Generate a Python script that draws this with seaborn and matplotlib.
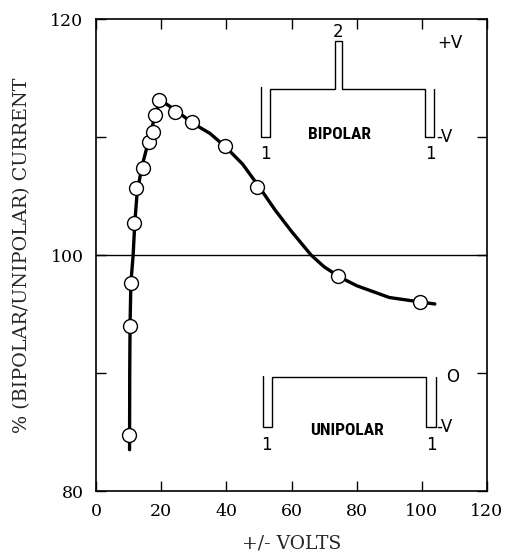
import matplotlib
matplotlib.use("Agg")
import matplotlib.pyplot as plt
import seaborn as sns
import pandas as pd

# measured points: bipolar/unipolar current ratio (%) vs +/- volts
volts = [10.1, 10.4, 10.6, 11.7, 12.3, 14.3, 16.4, 17.4, 18.1, 19.4,
         24.2, 29.5, 39.6, 49.3, 74.3, 99.4]
ratio = [84.75, 94.0, 97.6, 102.7, 105.65, 107.35, 109.55, 110.45, 111.9, 113.1,
         112.1, 111.3, 109.2, 105.8, 98.2, 96.0]

# hand-drawn trend curve through the measurements
curve_volts = [10.3, 10.35, 10.45, 10.7, 11.4, 11.9, 12.6, 14.0, 15.5, 17.0,
               18.3, 19.5, 21.0, 24.3, 29.5, 35.0, 40.0, 45.0, 50.0, 55.0,
               60.0, 66.0, 70.0, 75.0, 80.0, 90.0, 100.0, 104.0]
curve_ratio = [83.5, 90.0, 94.0, 97.6, 100.0, 102.7, 105.2, 107.4, 109.0, 110.6,
               112.0, 112.9, 112.9, 112.3, 111.2, 110.3, 109.1, 107.7, 105.8, 103.8,
               102.0, 100.0, 99.0, 98.1, 97.4, 96.4, 96.0, 95.85]

# pulse-train sketches (in axis units)
bipolar_x = [50.6, 50.6, 53.4, 53.4, 73.3, 73.3, 75.4, 75.4, 101.1, 101.1, 103.8, 103.8]
bipolar_y = [114.2, 110.0, 110.0, 114.07, 114.07, 118.1, 118.1, 114.07, 114.07, 110.0, 110.0, 114.07]
unipolar_x = [51.1, 51.1, 53.9, 53.9, 101.4, 101.4, 104.2, 104.2]
unipolar_y = [89.75, 85.45, 85.45, 89.66, 89.66, 85.45, 85.45, 89.66]

x_ticks = [0, 20, 40, 60, 80, 100, 120]
y_ticks = [80, 90, 100, 110, 120]
y_tick_labels = ["80", "", "100", "", "120"]

sns.set_style("ticks")
plt.rcParams["font.family"] = ["DejaVu Serif", "DejaVu Sans"]

fig = plt.figure(figsize=(5.08, 5.52), dpi=100)
ax = fig.add_axes([96 / 508, 1 - 491 / 552, (487 - 96) / 508, (491 - 19) / 552])

pts = pd.DataFrame({"volts": volts, "ratio": ratio})
trend = pd.DataFrame({"volts": curve_volts, "ratio": curve_ratio})

ax.axhline(100, color="black", lw=1.0, zorder=1)
sns.lineplot(data=trend, x="volts", y="ratio", sort=False, color="black",
             lw=2.4, ax=ax, zorder=2)
sns.scatterplot(data=pts, x="volts", y="ratio", ax=ax, s=100, marker="o",
                facecolor="white", edgecolor="black", linewidth=1.0, zorder=3)

# pulse sketches and their annotations
wave_kw = dict(color="black", lw=1.0, solid_joinstyle="miter")
ax.plot(bipolar_x, bipolar_y, **wave_kw)
ax.plot(unipolar_x, unipolar_y, **wave_kw)

lab_kw = dict(family=["DejaVu Sans"], fontsize=12, color="black")
ax.text(74.4, 118.9, "2", ha="center", va="center", **lab_kw)
ax.text(104.6, 118.0, "+V", ha="left", va="center", **lab_kw)
ax.text(104.3, 110.0, "-V", ha="left", va="center", **lab_kw)
ax.text(51.9, 108.6, "1", ha="center", va="center", **lab_kw)
ax.text(102.5, 108.6, "1", ha="center", va="center", **lab_kw)
ax.text(107.4, 89.7, "O", ha="left", va="center", **lab_kw)
ax.text(104.5, 85.45, "-V", ha="left", va="center", **lab_kw)
ax.text(52.4, 83.9, "1", ha="center", va="center", **lab_kw)
ax.text(103.0, 83.9, "1", ha="center", va="center", **lab_kw)

name_kw = dict(family=["Roboto Condensed", "DejaVu Sans Condensed",
                       "Liberation Sans Narrow", "Liberation Sans"],
               fontsize=12.5, fontweight="bold", fontstretch="condensed",
               color="black", ha="center", va="center")
ax.text(74.8, 110.2, "BIPOLAR", **name_kw)
ax.text(76.9, 85.1, "UNIPOLAR", **name_kw)

ax.set_xlim(0, 120)
ax.set_ylim(80, 120)
ax.set_xticks(x_ticks)
ax.set_xticklabels([str(v) for v in x_ticks])
ax.set_yticks(y_ticks)
ax.set_yticklabels(y_tick_labels)
ax.tick_params(direction="in", length=7, width=1.0, top=True, right=True,
               labelsize=12.5, pad=9, colors="black")
for sp in ax.spines.values():
    sp.set_linewidth(1.2)
    sp.set_color("black")

ax.set_xlabel("+/- VOLTS", fontsize=13.5, labelpad=10)
ax.set_ylabel("% (BIPOLAR/UNIPOLAR) CURRENT", fontsize=13.8, labelpad=14)

fig.savefig("out.png", dpi=100)
